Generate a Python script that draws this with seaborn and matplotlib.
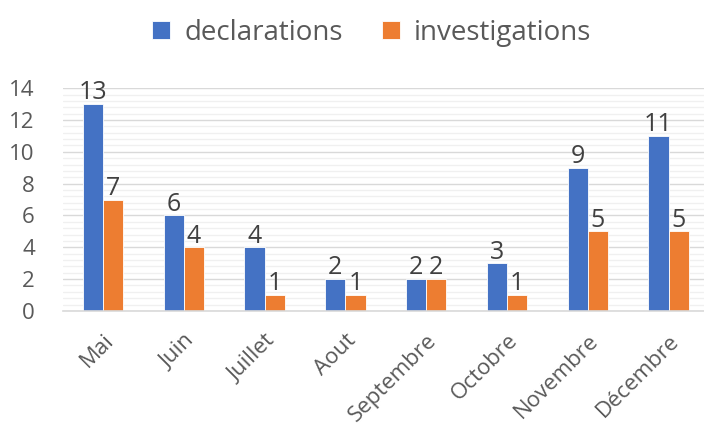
import matplotlib
matplotlib.use("Agg")
import matplotlib.pyplot as plt
import seaborn as sns
import pandas as pd
import numpy as np
from matplotlib.ticker import MultipleLocator

months = ["Mai", "Juin", "Juillet", "Aout", "Septembre", "Octobre", "Novembre", "Décembre"]
declarations = [13, 6, 4, 2, 2, 3, 9, 11]
investigations = [7, 4, 1, 1, 2, 1, 5, 5]
series_names = ["declarations", "investigations"]
colors = ["#4472C4", "#ED7D31"]

df = pd.DataFrame({
    "mois": months * 2,
    "valeur": declarations + investigations,
    "serie": [series_names[0]] * len(months) + [series_names[1]] * len(months),
})

sns.set_style("white")
plt.rcParams['font.family'] = ['Open Sans', 'DejaVu Sans']

fig = plt.figure(figsize=(7.04, 4.30), dpi=100)
ax = fig.add_axes([0.089, 0.277, 0.918, 0.518])

sns.barplot(data=df, x="mois", y="valeur", hue="serie", palette=colors,
            width=0.5, gap=0, ax=ax, edgecolor="white", linewidth=0.6,
            saturation=1, legend=True)

ax.set_ylim(0, 14)
ax.yaxis.set_major_locator(MultipleLocator(2))
ax.yaxis.set_minor_locator(MultipleLocator(0.4))
ax.grid(which="major", axis="y", color="#D9D9D9", linewidth=1)
ax.grid(which="minor", axis="y", color="#F0F0F0", linewidth=1)
ax.set_axisbelow(True)
for s in ["top", "right", "left"]:
    ax.spines[s].set_visible(False)
ax.spines["bottom"].set_color("#D9D9D9")
ax.spines["bottom"].set_linewidth(1.2)
ax.tick_params(axis="both", which="both", length=0)
ax.tick_params(axis="y", labelsize=16, labelcolor="#595959", pad=20)
ax.tick_params(axis="x", labelsize=16, labelcolor="#595959", pad=14)
plt.setp(ax.get_xticklabels(), rotation=45, ha="right", rotation_mode="anchor")
ax.set_xlabel("")
ax.set_ylabel("")

for cont in ax.containers:
    ax.bar_label(cont, fontsize=18, color="#404040", padding=-1)

handles, labels = ax.get_legend_handles_labels()
ax.legend(handles, labels, loc="upper center", bbox_to_anchor=(0.528, 1.015),
          bbox_transform=fig.transFigure, ncol=2, frameon=False, fontsize=20,
          labelcolor="#595959", handlelength=0.65, handleheight=0.65,
          handletextpad=0.5, columnspacing=1.4)

fig.savefig("out.png", dpi=100)
